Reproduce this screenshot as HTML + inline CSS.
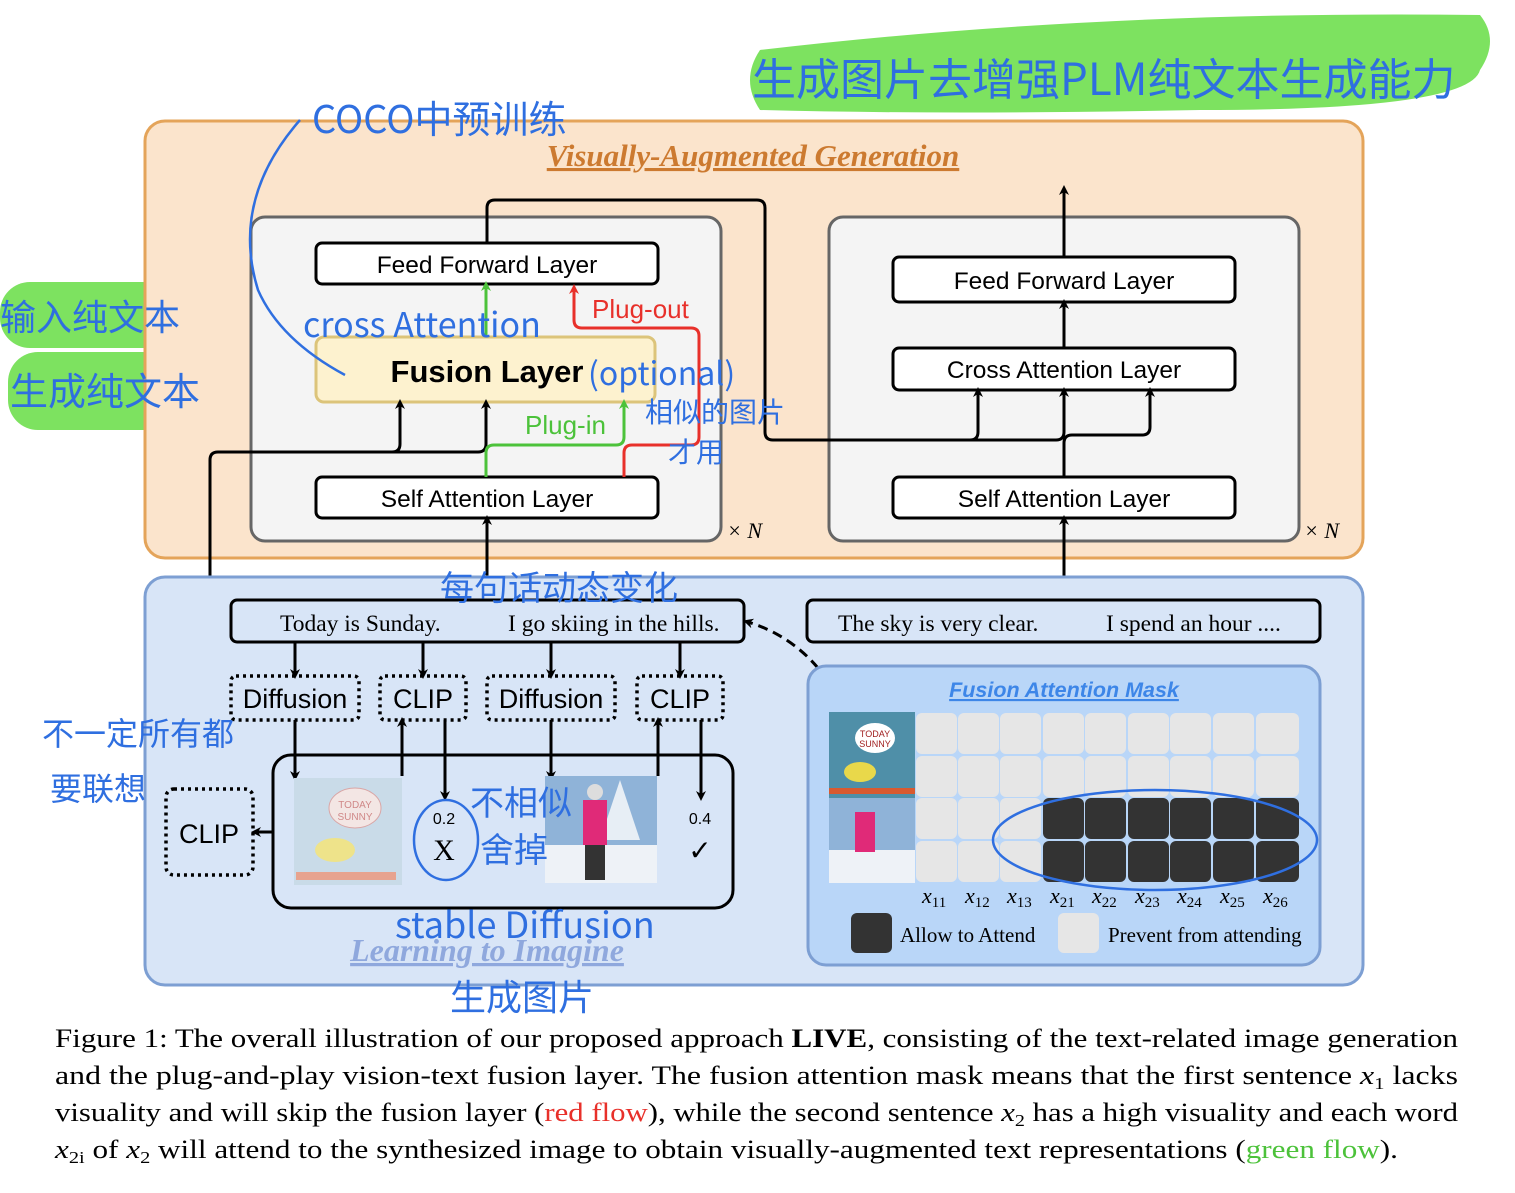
<!DOCTYPE html>
<html><head><meta charset="utf-8"><style>
html,body{margin:0;padding:0;background:#fff;}
svg{display:block;}
.h{font-family:"Liberation Sans",sans-serif;}
.s{font-family:"Liberation Serif",serif;}
.hw{font-family:"WenQuanYi Zen Hei","Noto Sans CJK SC",sans-serif;fill:#2f6fe0;}
</style></head><body>
<svg width="1515" height="1193" viewBox="0 0 1515 1193" xmlns="http://www.w3.org/2000/svg">
<defs>
<marker id="ab" markerWidth="10" markerHeight="10" refX="5" refY="5" orient="auto" markerUnits="userSpaceOnUse"><path d="M0,0 L10,5 L0,10 L3,5 z" fill="#000"/></marker>
<marker id="ag" markerWidth="10" markerHeight="10" refX="5" refY="5" orient="auto" markerUnits="userSpaceOnUse"><path d="M0,0 L10,5 L0,10 L3,5 z" fill="#4cc23a"/></marker>
<marker id="ar" markerWidth="10" markerHeight="10" refX="5" refY="5" orient="auto" markerUnits="userSpaceOnUse"><path d="M0,0 L10,5 L0,10 L3,5 z" fill="#e8302a"/></marker>
</defs>
<rect width="1515" height="1193" fill="#fff"/>
<path d="M760,50 Q1100,10 1480,15 Q1500,40 1480,70 Q1470,110 1200,110 Q950,115 760,110 Q740,80 760,50z" fill="#66dd44" opacity="0.85"/>
<rect x="0" y="282" width="185" height="66" rx="30" fill="#66dd44" opacity="0.85"/>
<rect x="8" y="352" width="190" height="78" rx="30" fill="#66dd44" opacity="0.85"/>
<rect x="145" y="121" width="1218" height="437" rx="20" fill="#fbe4cc" stroke="#e4a45a" stroke-width="3"/>
<text x="753" y="166" text-anchor="middle" class="s" font-size="31" font-style="italic" font-weight="bold" fill="#cc7a30" text-decoration="underline">Visually-Augmented Generation</text>
<rect x="251" y="217" width="470" height="324" rx="14" fill="#f4f4f4" stroke="#666" stroke-width="3"/>
<rect x="829" y="217" width="470" height="324" rx="14" fill="#f4f4f4" stroke="#666" stroke-width="3"/>
<text x="727" y="538" class="s" font-size="22" font-style="italic">× N</text>
<text x="1304" y="538" class="s" font-size="22" font-style="italic">× N</text>
<rect x="316" y="243" width="342" height="41" rx="6" fill="#fff" stroke="#000" stroke-width="3"/>
<text x="487" y="273" text-anchor="middle" class="h" font-size="24.5">Feed Forward Layer</text>
<rect x="316" y="337" width="339" height="65" rx="8" fill="#fdf2cf" stroke="#dcc47a" stroke-width="3"/>
<text x="487" y="382" text-anchor="middle" class="h" font-size="31" font-weight="bold">Fusion Layer</text>
<rect x="316" y="477" width="342" height="41" rx="6" fill="#fff" stroke="#000" stroke-width="3"/>
<text x="487" y="507" text-anchor="middle" class="h" font-size="24.5">Self Attention Layer</text>
<rect x="893" y="257" width="342" height="45" rx="6" fill="#fff" stroke="#000" stroke-width="3"/>
<text x="1064" y="289" text-anchor="middle" class="h" font-size="24.5">Feed Forward Layer</text>
<rect x="893" y="348" width="342" height="42" rx="6" fill="#fff" stroke="#000" stroke-width="3"/>
<text x="1064" y="378" text-anchor="middle" class="h" font-size="24.5">Cross Attention Layer</text>
<rect x="893" y="477" width="342" height="41" rx="6" fill="#fff" stroke="#000" stroke-width="3"/>
<text x="1064" y="507" text-anchor="middle" class="h" font-size="24.5">Self Attention Layer</text>
<g fill="none" stroke="#000" stroke-width="3">
<path d="M487,243 V208 Q487,200 495,200 H757 Q765,200 765,208 V432 Q765,440 773,440 H970 Q978,440 978,432 V392" marker-end="url(#ab)"/>
<path d="M970,440 H1056 Q1064,440 1064,432 V392" marker-end="url(#ab)"/>
<path d="M1064,477 V443 Q1064,435 1072,435 H1142 Q1150,435 1150,427 V392" marker-end="url(#ab)"/>
<path d="M1064,348 V304" marker-end="url(#ab)"/>
<path d="M1064,257 V190" marker-end="url(#ab)"/>
<path d="M1064,600 V520" marker-end="url(#ab)"/>
<path d="M487,600 V520" marker-end="url(#ab)"/>
<path d="M210,790 V460 Q210,452 218,452 H392 Q400,452 400,444 V404" marker-end="url(#ab)"/>
<path d="M392,452 H478 Q486,452 486,444 V404" marker-end="url(#ab)"/>
</g>
<g fill="none" stroke-width="3">
<path d="M486,477 V453 Q486,445 494,445 H616 Q624,445 624,437 V404" stroke="#4cc23a" marker-end="url(#ag)"/>
<path d="M486,337 V286" stroke="#4cc23a" marker-end="url(#ag)"/>
<path d="M624,477 V453 Q624,445 632,445 H691 Q699,445 699,437 V336 Q699,328 691,328 H582 Q574,328 574,320 V289" stroke="#e8302a" marker-end="url(#ar)"/>
</g>
<text x="592" y="318" class="h" font-size="26" fill="#e8302a">Plug-out</text>
<text x="525" y="434" class="h" font-size="26" fill="#4cc23a">Plug-in</text>
<rect x="145" y="577" width="1218" height="408" rx="20" fill="#d8e5f7" stroke="#7d9fd3" stroke-width="3"/>
<text x="487" y="961" text-anchor="middle" class="s" font-size="32" font-style="italic" font-weight="bold" fill="#8fa8dd" text-decoration="underline">Learning to Imagine</text>
<rect x="231" y="600" width="513" height="42" rx="6" fill="#d8e5f7" stroke="#000" stroke-width="3"/>
<text x="280" y="631" class="s" font-size="23.5">Today is Sunday.</text>
<text x="508" y="631" class="s" font-size="23.5">I go skiing in the hills.</text>
<rect x="807" y="600" width="513" height="42" rx="6" fill="#d8e5f7" stroke="#000" stroke-width="3"/>
<text x="838" y="631" class="s" font-size="23.5">The sky is very clear.</text>
<text x="1106" y="631" class="s" font-size="23.5">I spend an hour ....</text>
<path d="M818,668 Q790,635 748,622" fill="none" stroke="#000" stroke-width="3" stroke-dasharray="10,6" marker-end="url(#ab)"/>
<g fill="none" stroke="#000" stroke-width="3.5" stroke-dasharray="3,4">
<rect x="231" y="676" width="128" height="44" rx="5"/>
<rect x="380" y="676" width="86" height="44" rx="5"/>
<rect x="487" y="676" width="128" height="44" rx="5"/>
<rect x="637" y="676" width="86" height="44" rx="5"/>
<rect x="166" y="789" width="87" height="86" rx="8"/>
</g>
<g class="h" font-size="27" text-anchor="middle">
<text x="295" y="708">Diffusion</text><text x="423" y="708">CLIP</text>
<text x="551" y="708">Diffusion</text><text x="680" y="708">CLIP</text>
<text x="209" y="843">CLIP</text>
</g>
<rect x="273" y="755" width="460" height="153" rx="18" fill="none" stroke="#000" stroke-width="3"/>
<g fill="none" stroke="#000" stroke-width="3">
<path d="M295,642 V674" marker-end="url(#ab)"/><path d="M423,642 V674" marker-end="url(#ab)"/>
<path d="M551,642 V674" marker-end="url(#ab)"/><path d="M680,642 V674" marker-end="url(#ab)"/>
<path d="M295,720 V776" marker-end="url(#ab)"/><path d="M551,720 V776" marker-end="url(#ab)"/>
<path d="M402,776 V722" marker-end="url(#ab)"/><path d="M658,776 V722" marker-end="url(#ab)"/>
<path d="M445,720 V796" marker-end="url(#ab)"/><path d="M701,720 V796" marker-end="url(#ab)"/>
<path d="M273,832 H256" marker-end="url(#ab)"/>
</g>
<rect x="294" y="778" width="108" height="107" fill="#c9dbe8"/>
<ellipse cx="355" cy="808" rx="26" ry="20" fill="#f3e6e4" stroke="#d9a6a6"/>
<text x="355" y="808" text-anchor="middle" class="h" font-size="10" fill="#d08888">TODAY</text>
<text x="355" y="820" text-anchor="middle" class="h" font-size="10" fill="#d08888">SUNNY</text>
<ellipse cx="335" cy="850" rx="20" ry="12" fill="#eee38a"/>
<rect x="296" y="872" width="100" height="8" fill="#e7a38f"/>
<rect x="545" y="776" width="112" height="107" fill="#8fb3d8"/>
<rect x="545" y="845" width="112" height="38" fill="#eef2f7"/>
<path d="M620,780 L640,840 L600,840z" fill="#e7eef5"/>
<rect x="583" y="800" width="24" height="45" fill="#e02a78"/>
<circle cx="595" cy="792" r="8" fill="#ddd"/>
<rect x="585" y="845" width="20" height="35" fill="#333"/>
<text x="444" y="824" text-anchor="middle" class="h" font-size="16">0.2</text>
<text x="444" y="860" text-anchor="middle" class="s" font-size="30">X</text>
<text x="700" y="824" text-anchor="middle" class="h" font-size="16">0.4</text>
<text x="700" y="860" text-anchor="middle" class="s" font-size="28">✓</text>
<rect x="808" y="666" width="512" height="299" rx="18" fill="#b9d6f8" stroke="#7d9fd3" stroke-width="3"/>
<text x="1064" y="697" text-anchor="middle" class="h" font-size="21.5" font-style="italic" font-weight="bold" fill="#3d86e8" text-decoration="underline">Fusion Attention Mask</text>
<rect x="829" y="712" width="86" height="86" fill="#4f8fa8"/>
<ellipse cx="875" cy="738" rx="20" ry="15" fill="#fff"/>
<text x="875" y="737" text-anchor="middle" class="h" font-size="9" fill="#a02020">TODAY</text>
<text x="875" y="747" text-anchor="middle" class="h" font-size="9" fill="#a02020">SUNNY</text>
<ellipse cx="860" cy="772" rx="16" ry="10" fill="#e9d84a"/>
<rect x="829" y="788" width="86" height="6" fill="#d85a30"/>
<rect x="829" y="798" width="86" height="85" fill="#8fb3d8"/>
<rect x="829" y="850" width="86" height="33" fill="#eef2f7"/>
<rect x="855" y="812" width="20" height="40" fill="#e02a78"/>
<g fill="#e6e6e6">
<rect x="916" y="713" width="41" height="41" rx="6"/><rect x="958" y="713" width="41" height="41" rx="6"/><rect x="1000" y="713" width="41" height="41" rx="6"/><rect x="1043" y="713" width="41" height="41" rx="6"/><rect x="1085" y="713" width="41" height="41" rx="6"/><rect x="1128" y="713" width="41" height="41" rx="6"/><rect x="1170" y="713" width="41" height="41" rx="6"/><rect x="1213" y="713" width="41" height="41" rx="6"/><rect x="1256" y="713" width="43" height="41" rx="6"/>
<rect x="916" y="756" width="41" height="41" rx="6"/><rect x="958" y="756" width="41" height="41" rx="6"/><rect x="1000" y="756" width="41" height="41" rx="6"/><rect x="1043" y="756" width="41" height="41" rx="6"/><rect x="1085" y="756" width="41" height="41" rx="6"/><rect x="1128" y="756" width="41" height="41" rx="6"/><rect x="1170" y="756" width="41" height="41" rx="6"/><rect x="1213" y="756" width="41" height="41" rx="6"/><rect x="1256" y="756" width="43" height="41" rx="6"/>
<rect x="916" y="798" width="41" height="41" rx="6"/><rect x="958" y="798" width="41" height="41" rx="6"/><rect x="1000" y="798" width="41" height="41" rx="6"/>
<rect x="916" y="841" width="41" height="41" rx="6"/><rect x="958" y="841" width="41" height="41" rx="6"/><rect x="1000" y="841" width="41" height="41" rx="6"/>
<rect x="1058" y="913" width="41" height="40" rx="6"/>
</g>
<g fill="#333">
<rect x="1043" y="798" width="41" height="41" rx="6"/><rect x="1085" y="798" width="41" height="41" rx="6"/><rect x="1128" y="798" width="41" height="41" rx="6"/><rect x="1170" y="798" width="41" height="41" rx="6"/><rect x="1213" y="798" width="41" height="41" rx="6"/><rect x="1256" y="798" width="43" height="41" rx="6"/>
<rect x="1043" y="841" width="41" height="41" rx="6"/><rect x="1085" y="841" width="41" height="41" rx="6"/><rect x="1128" y="841" width="41" height="41" rx="6"/><rect x="1170" y="841" width="41" height="41" rx="6"/><rect x="1213" y="841" width="41" height="41" rx="6"/><rect x="1256" y="841" width="43" height="41" rx="6"/>
<rect x="851" y="913" width="41" height="40" rx="6"/>
</g>
<g class="s" font-size="22" font-style="italic">
<text x="922" y="903">x<tspan font-size="15" font-style="normal" dy="4">11</tspan></text>
<text x="965" y="903">x<tspan font-size="15" font-style="normal" dy="4">12</tspan></text>
<text x="1007" y="903">x<tspan font-size="15" font-style="normal" dy="4">13</tspan></text>
<text x="1050" y="903">x<tspan font-size="15" font-style="normal" dy="4">21</tspan></text>
<text x="1092" y="903">x<tspan font-size="15" font-style="normal" dy="4">22</tspan></text>
<text x="1135" y="903">x<tspan font-size="15" font-style="normal" dy="4">23</tspan></text>
<text x="1177" y="903">x<tspan font-size="15" font-style="normal" dy="4">24</tspan></text>
<text x="1220" y="903">x<tspan font-size="15" font-style="normal" dy="4">25</tspan></text>
<text x="1263" y="903">x<tspan font-size="15" font-style="normal" dy="4">26</tspan></text>
</g>
<text x="900" y="942" class="s" font-size="21">Allow to Attend</text>
<text x="1108" y="942" class="s" font-size="21">Prevent from attending</text>
<g fill="none" stroke="#2f6fe0" stroke-width="2.5">
<ellipse cx="1155" cy="840" rx="162" ry="50"/>
<ellipse cx="446" cy="840" rx="32" ry="40"/>
<path d="M300,120 Q230,200 258,290 Q280,340 345,375"/>
</g>
<text x="312" y="133" class="hw" font-size="38">COCO中预训练</text>
<text x="752" y="95" class="hw" font-size="44">生成图片去增强PLM纯文本生成能力</text>
<text x="0" y="330" class="hw" font-size="36">输入纯文本</text>
<text x="10" y="405" class="hw" font-size="38">生成纯文本</text>
<text x="303" y="337" class="hw" font-size="34">cross Attention</text>
<text x="588" y="385" class="hw" font-size="32">(optional)</text>
<text x="645" y="422" class="hw" font-size="28">相似的图片</text>
<text x="668" y="462" class="hw" font-size="28">才用</text>
<text x="440" y="600" class="hw" font-size="34">每句话动态变化</text>
<text x="42" y="745" class="hw" font-size="32">不一定所有都</text>
<text x="50" y="800" class="hw" font-size="32">要联想</text>
<text x="470" y="815" class="hw" font-size="34">不相似</text>
<text x="480" y="862" class="hw" font-size="34">舍掉</text>
<text x="395" y="938" class="hw" font-size="36">stable Diffusion</text>
<text x="450" y="1010" class="hw" font-size="36">生成图片</text>
<g class="s" font-size="26">
<text x="55" y="1047" textLength="1403" lengthAdjust="spacingAndGlyphs">Figure 1: The overall illustration of our proposed approach <tspan font-weight="bold">LIVE</tspan>, consisting of the text-related image generation</text>
<text x="55" y="1084" textLength="1403" lengthAdjust="spacingAndGlyphs">and the plug-and-play vision-text fusion layer. The fusion attention mask means that the first sentence <tspan font-style="italic">x</tspan><tspan font-size="17" dy="5">1</tspan><tspan dy="-5"> lacks</tspan></text>
<text x="55" y="1121" textLength="1403" lengthAdjust="spacingAndGlyphs">visuality and will skip the fusion layer (<tspan fill="#e8302a">red flow</tspan>), while the second sentence <tspan font-style="italic">x</tspan><tspan font-size="17" dy="5">2</tspan><tspan dy="-5"> has a high visuality and each word</tspan></text>
<text x="55" y="1158" textLength="1343" lengthAdjust="spacingAndGlyphs"><tspan font-style="italic">x</tspan><tspan font-size="17" dy="5">2i</tspan><tspan dy="-5"> of </tspan><tspan font-style="italic">x</tspan><tspan font-size="17" dy="5">2</tspan><tspan dy="-5"> will attend to the synthesized image to obtain visually-augmented text representations (</tspan><tspan fill="#4cc23a">green flow</tspan>).</text>
</g>
</svg>
</body></html>
